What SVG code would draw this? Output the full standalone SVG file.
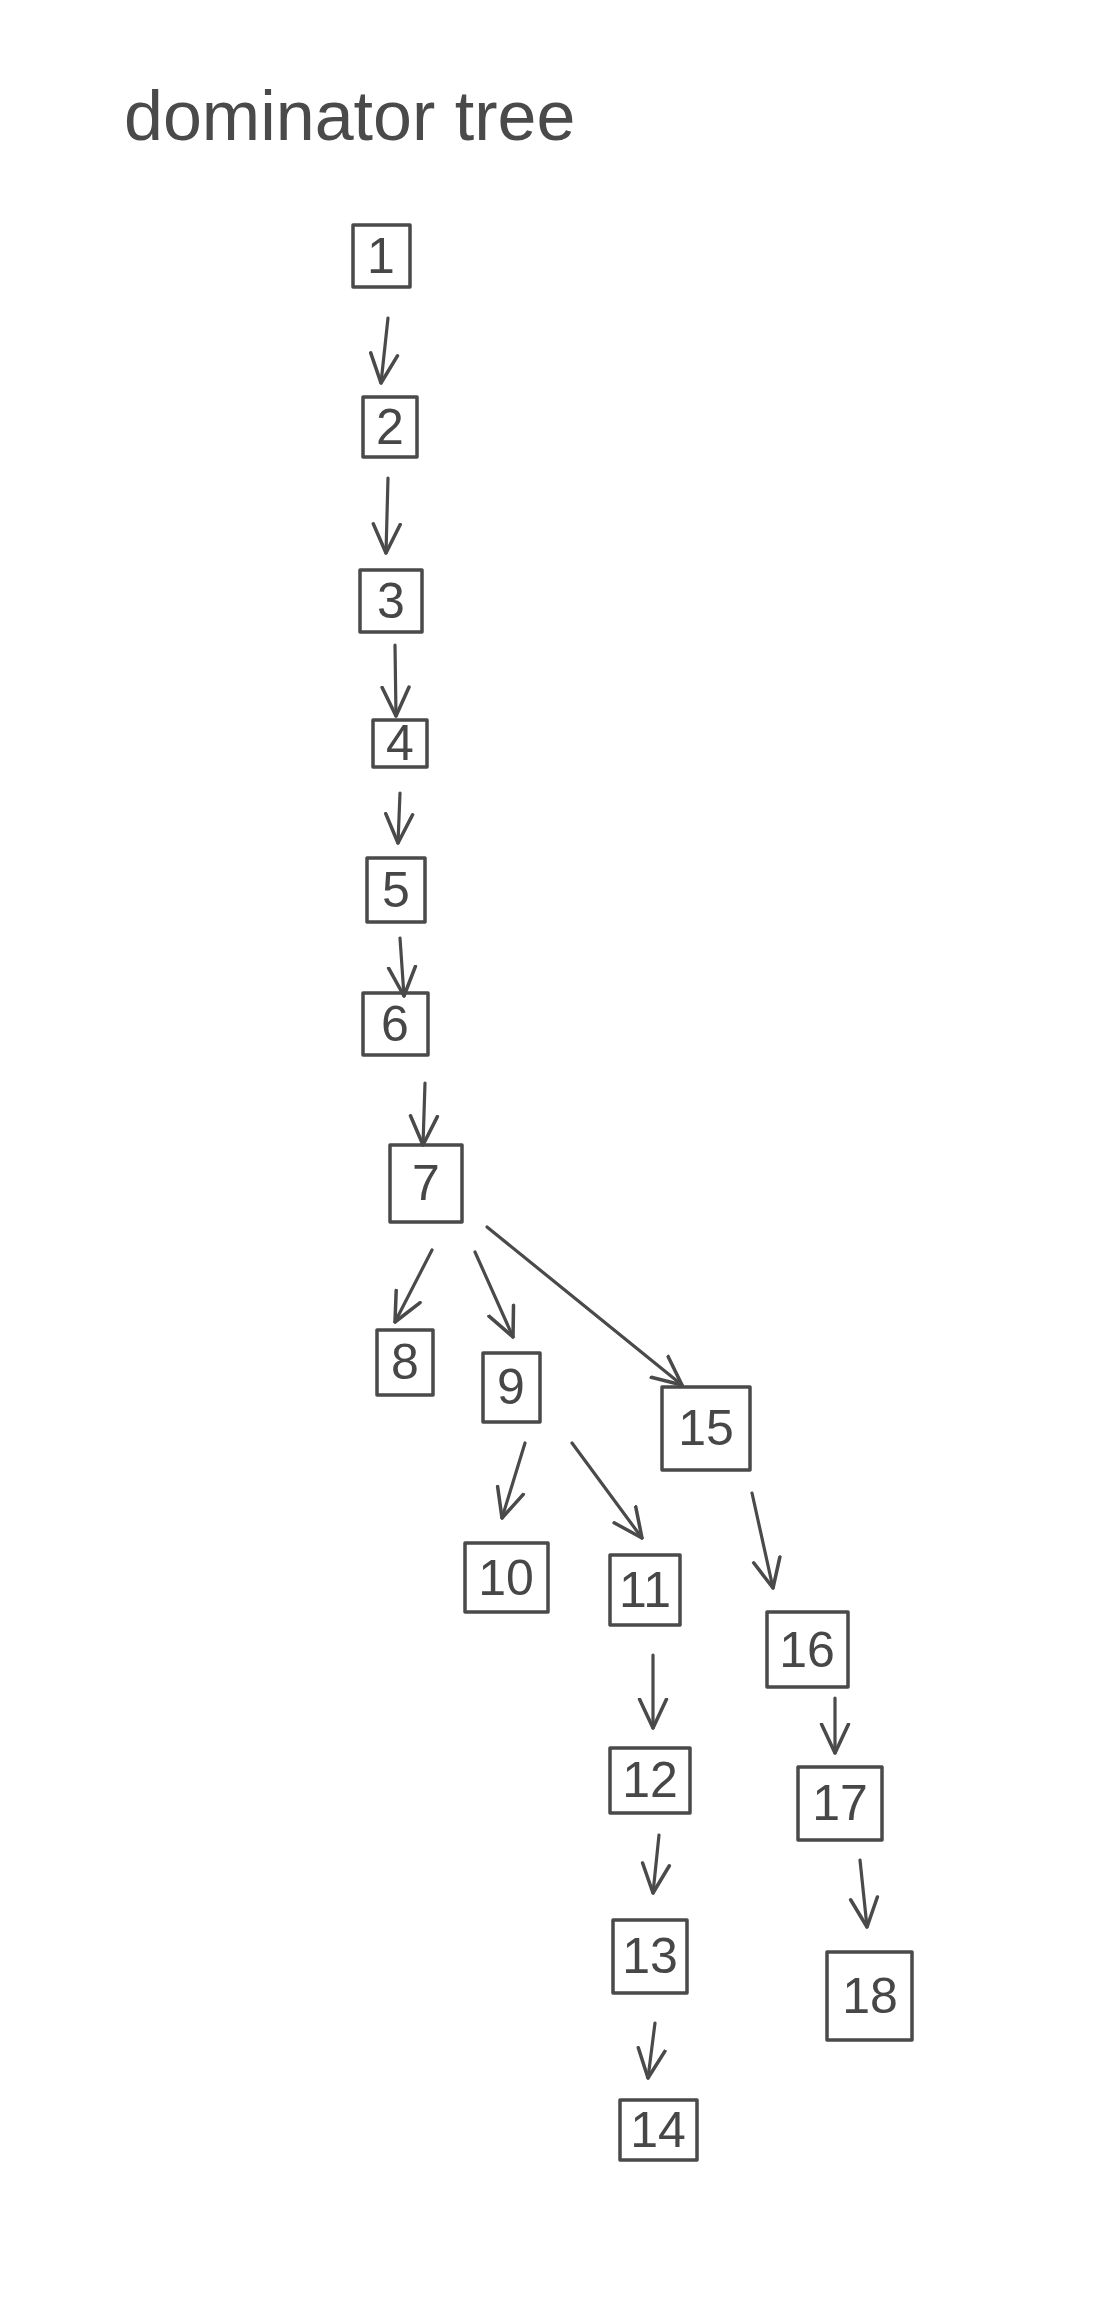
<svg xmlns="http://www.w3.org/2000/svg" width="1101" height="2297" viewBox="0 0 1101 2297">
<style>
.bg{fill:#ffffff}
.box{fill:none;stroke:#4a4a4a;stroke-width:3.5;stroke-linejoin:round}
.lbl{font-family:"Liberation Sans",Arial,sans-serif;font-size:50px;fill:#474747;text-anchor:middle;dominant-baseline:central}
.title{font-family:"Liberation Sans",Arial,sans-serif;font-size:70px;fill:#4a4a4a}
.edge{fill:none;stroke:#4a4a4a;stroke-width:3.2;stroke-linecap:round;marker-end:url(#arr)}
</style>
<defs>
<marker id="arr" viewBox="0 0 10 10" refX="9.5" refY="5" markerWidth="32" markerHeight="32" markerUnits="userSpaceOnUse" orient="auto">
<path d="M0.5,0.8 L9.5,5 L0.5,9.2" fill="none" stroke="#4a4a4a" stroke-width="1.1" stroke-linecap="round" stroke-linejoin="round"/>
</marker>
</defs>
<rect class="bg" x="0" y="0" width="1101" height="2297"/>
<text class="title" x="124" y="140">dominator tree</text>
<g id="edges">
<line class="edge" x1="388" y1="318" x2="381" y2="383"/>
<line class="edge" x1="388" y1="478" x2="386" y2="553"/>
<line class="edge" x1="395" y1="645" x2="396" y2="716"/>
<line class="edge" x1="400" y1="793" x2="398" y2="843"/>
<line class="edge" x1="400" y1="938" x2="404" y2="996"/>
<line class="edge" x1="425" y1="1083" x2="423" y2="1145"/>
<line class="edge" x1="432" y1="1250" x2="395" y2="1322"/>
<line class="edge" x1="475" y1="1252" x2="513" y2="1337"/>
<line class="edge" x1="487" y1="1227" x2="682" y2="1385"/>
<line class="edge" x1="525" y1="1443" x2="502" y2="1518"/>
<line class="edge" x1="572" y1="1443" x2="642" y2="1538"/>
<line class="edge" x1="752" y1="1493" x2="773" y2="1588"/>
<line class="edge" x1="653" y1="1655" x2="653" y2="1728"/>
<line class="edge" x1="659" y1="1835" x2="653" y2="1893"/>
<line class="edge" x1="835" y1="1698" x2="835" y2="1753"/>
<line class="edge" x1="860" y1="1860" x2="867" y2="1927"/>
<line class="edge" x1="655" y1="2023" x2="648" y2="2078"/>
</g>
<g id="n1"><rect class="box" x="353" y="225" width="57" height="62"/><text class="lbl" x="381" y="256">1</text></g>
<g id="n2"><rect class="box" x="363" y="397" width="54" height="60"/><text class="lbl" x="390" y="427">2</text></g>
<g id="n3"><rect class="box" x="360" y="570" width="62" height="62"/><text class="lbl" x="391" y="601">3</text></g>
<g id="n4"><rect class="box" x="373" y="720" width="54" height="47"/><text class="lbl" x="400" y="743">4</text></g>
<g id="n5"><rect class="box" x="367" y="858" width="58" height="64"/><text class="lbl" x="396" y="890">5</text></g>
<g id="n6"><rect class="box" x="363" y="993" width="65" height="62"/><text class="lbl" x="395" y="1024">6</text></g>
<g id="n7"><rect class="box" x="390" y="1145" width="72" height="77"/><text class="lbl" x="426" y="1183">7</text></g>
<g id="n8"><rect class="box" x="377" y="1330" width="56" height="65"/><text class="lbl" x="405" y="1362">8</text></g>
<g id="n9"><rect class="box" x="483" y="1353" width="57" height="69"/><text class="lbl" x="511" y="1387">9</text></g>
<g id="n15"><rect class="box" x="662" y="1387" width="88" height="83"/><text class="lbl" x="706" y="1428">15</text></g>
<g id="n10"><rect class="box" x="465" y="1543" width="83" height="69"/><text class="lbl" x="506" y="1578">10</text></g>
<g id="n11"><rect class="box" x="610" y="1555" width="70" height="70"/><text class="lbl" x="645" y="1590">11</text></g>
<g id="n16"><rect class="box" x="767" y="1612" width="81" height="75"/><text class="lbl" x="807" y="1650">16</text></g>
<g id="n12"><rect class="box" x="610" y="1748" width="80" height="65"/><text class="lbl" x="650" y="1780">12</text></g>
<g id="n13"><rect class="box" x="613" y="1920" width="74" height="73"/><text class="lbl" x="650" y="1956">13</text></g>
<g id="n17"><rect class="box" x="798" y="1767" width="84" height="73"/><text class="lbl" x="840" y="1803">17</text></g>
<g id="n18"><rect class="box" x="827" y="1952" width="85" height="88"/><text class="lbl" x="870" y="1996">18</text></g>
<g id="n14"><rect class="box" x="620" y="2100" width="77" height="60"/><text class="lbl" x="658" y="2130">14</text></g>
</svg>
